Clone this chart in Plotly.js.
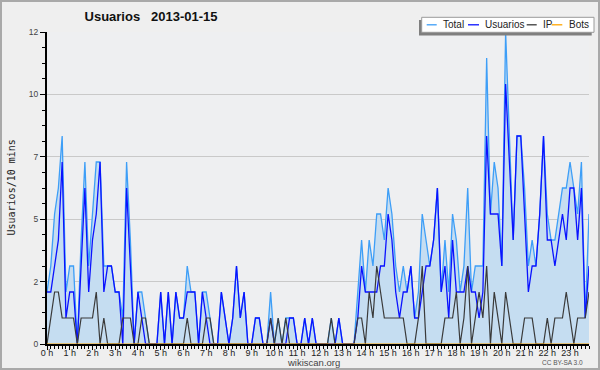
<!DOCTYPE html>
<html>
<head>
<meta charset="utf-8">
<script src="https://cdn.plot.ly/plotly-3.0.1.min.js"></script>
<style>
  html, body { margin: 0; padding: 0; background: #efefef; }
  #chart { width: 600px; height: 370px; }
</style>
</head>
<body>
<div id="chart"></div>
<script>
// ---- data (one value per 10 minutes, 144 slots) ----
const hourLabels = ["0 h","1 h","2 h","3 h","4 h","5 h","6 h","7 h","8 h","9 h","10 h","11 h",
  "12 h","13 h","14 h","15 h","16 h","17 h","18 h","19 h","20 h","21 h","22 h","23 h"];

const totalValues = [
  2,3,5,6,8,2,3,3,0,4, 7,3,5,7,7,3,3,3,2,2, 1,7,4,0,2,2,1,0,0,0,
  2,0,2,0,2,1,1,3,2,2, 0,2,2,1,0,0,2,1,0,1, 3,1,2,0,0,1,1,0,0,2,
  0,1,0,1,1,1,0,0,1,0, 1,0,0,0,0,1,0,1,0,0, 0,0,2,4,2,4,3,5,5,4,
  6,5,3,2,3,2,3,1,2,5, 4,3,4,6,2,4,2,5,4,2, 3,6,2,3,3,3,11,5,7,6,
  3,12,8,4,8,8,6,3,4,3, 5,8,5,4,4,5,6,6,7,6, 5,7,1,5];

const usuariosValues = [
  2,2,3,4,7,1,2,2,0,3, 6,2,4,5,7,2,3,3,2,2, 0,6,3,0,2,1,0,0,0,0,
  2,0,2,0,2,1,1,2,2,2, 0,2,1,0,0,0,2,1,0,1, 3,1,2,0,0,1,1,0,0,1,
  0,0,0,0,1,1,0,0,1,0, 1,0,0,0,0,0,0,1,0,0, 0,0,1,3,2,2,2,2,3,3,
  5,4,2,1,2,2,3,1,1,2, 3,3,4,6,2,3,1,4,2,2, 2,3,2,2,1,2,8,5,5,5,
  3,10,7,4,8,8,5,2,3,3, 5,8,4,4,3,4,5,4,6,6, 4,6,1,3];

const ipValues = [
  0,1,2,2,1,1,1,1,0,1, 1,1,1,2,0,1,0,0,0,0, 1,1,1,0,0,1,1,0,0,0,
  0,0,0,0,0,0,0,1,0,0, 0,0,1,1,0,0,0,0,0,0, 0,0,0,0,0,0,0,0,0,1,
  0,1,0,1,0,0,0,0,0,0, 0,0,0,0,0,1,0,0,0,0, 0,0,1,1,0,2,1,3,2,1,
  1,1,1,1,1,0,0,0,1,3, 0,0,0,0,0,1,1,1,2,0, 1,3,0,1,2,1,3,0,2,1,
  0,2,1,0,0,0,1,1,1,0, 0,0,1,0,1,1,1,2,1,0, 1,1,1,2];

const botsValues = new Array(144).fill(0);

const seriesNames = ["Total", "Usuarios", "IP", "Bots"];
const seriesColors = ["#3d9ef7", "#0a12ff", "#3a3a3a", "#ffa500"];

const yTickValues = [0, 2.4, 4.8, 7.2, 9.6, 12];
const yTickLabels = ["0", "2", "5", "7", "10", "12"];

// ---- geometry helpers (pixel -> paper) ----
const W = 600, H = 370, ML = 47, MR = 11, MT = 32, MB = 26;
const PW = W - ML - MR, PH = H - MT - MB;
const px = x => (x - ML) / PW;
const py = y => (H - MB - y) / PH;

const slots = totalValues.map((_, i) => i);
const hourTicks = hourLabels.map((_, h) => h * 6);

const traces = [
  { x: slots, y: totalValues, name: seriesNames[0], type: "scatter", mode: "lines",
    line: { color: seriesColors[0], width: 1.3 }, fill: "tozeroy", fillcolor: "rgb(197,221,241)" },
  { x: slots, y: usuariosValues, name: seriesNames[1], type: "scatter", mode: "lines",
    line: { color: seriesColors[1], width: 1.3 } },
  { x: slots, y: ipValues, name: seriesNames[2], type: "scatter", mode: "lines",
    line: { color: seriesColors[2], width: 1.2 } },
  { x: slots, y: botsValues, name: seriesNames[3], type: "scatter", mode: "lines",
    line: { color: seriesColors[3], width: 1.2 } }
];

// manual legend
const legendItems = [
  { lx0: 426.7, lx1: 436.7, tx: 442.3 },
  { lx0: 468.0, lx1: 479.0, tx: 484.0 },
  { lx0: 526.7, lx1: 536.7, tx: 541.7 },
  { lx0: 551.7, lx1: 562.3, tx: 568.0 }
];
const legY = 24.8;
const shapes = [
  { type: "rect", xref: "paper", yref: "paper", x0: px(1), x1: px(599), y0: py(369), y1: py(1),
    line: { color: "#a9a9a9", width: 2 }, fillcolor: "rgba(0,0,0,0)" },
  { type: "rect", xref: "paper", yref: "paper", x0: px(419), x1: px(591.7), y0: py(35.5), y1: py(20),
    line: { width: 0 }, fillcolor: "#7f7f7f" },
  { type: "rect", xref: "paper", yref: "paper", x0: px(421.7), x1: px(594), y0: py(32.3), y1: py(17.3),
    line: { color: "#9a9a9a", width: 1 }, fillcolor: "#ffffff" }
];
const annotations = [];
legendItems.forEach((it, k) => {
  shapes.push({ type: "line", xref: "paper", yref: "paper", x0: px(it.lx0), x1: px(it.lx1),
    y0: py(legY), y1: py(legY), line: { color: seriesColors[k], width: 1.3 } });
  annotations.push({ xref: "paper", yref: "paper", x: px(it.tx), y: py(legY), xanchor: "left", yanchor: "middle",
    text: seriesNames[k], showarrow: false, borderpad: 0,
    font: { family: "Liberation Sans", size: 10, color: "#222" } });
});
annotations.push(
  { xref: "paper", yref: "paper", x: px(10.5), y: py(188), xanchor: "center", yanchor: "middle",
    text: "Usuarios/10 mins", textangle: -90, showarrow: false,
    font: { family: "DejaVu Sans Mono", size: 10, color: "#222" } },
  { xref: "paper", yref: "paper", x: px(313), y: py(362), xanchor: "center", yanchor: "middle",
    text: "wikiscan.org", showarrow: false, borderpad: 0, font: { family: "Liberation Sans", size: 9.5, color: "#444" } },
  { xref: "paper", yref: "paper", x: px(562), y: py(362.5), xanchor: "center", yanchor: "middle",
    text: "CC BY-SA 3.0", showarrow: false, borderpad: 0, font: { family: "Liberation Sans", size: 6.5, color: "#555" } }
);

const layout = {
  width: W, height: H,
  margin: { l: ML, r: MR, t: MT, b: MB, pad: 0 },
  paper_bgcolor: "#efefef",
  plot_bgcolor: "#eeeff1",
  showlegend: false,
  title: { text: "Usuarios\u00a0\u00a0 2013-01-15", x: 151 / W, xref: "container", xanchor: "center",
    y: 1 - 16.5 / H, yref: "container", yanchor: "middle",
    font: { family: "Liberation Sans", size: 13, weight: "bold", color: "#111" } },
  xaxis: {
    range: [0, 143], showgrid: false, zeroline: false,
    showline: true, linecolor: "#000", linewidth: 2,
    tickmode: "array", tickvals: hourTicks, ticktext: hourLabels,
    ticks: "outside", ticklen: 4, tickwidth: 1, tickcolor: "#000",
    ticklabelstandoff: -5,
    tickfont: { family: "Liberation Sans", size: 9, color: "#222" },
    minor: { tickmode: "linear", tick0: 0, dtick: 1, ticks: "outside", ticklen: 3, tickcolor: "#000", tickwidth: 1 },
    fixedrange: true
  },
  yaxis: {
    range: [0, 12], zeroline: false,
    showgrid: true, gridcolor: "#c9c9c9", gridwidth: 1,
    showline: true, linecolor: "#000", linewidth: 2,
    tickmode: "array", tickvals: yTickValues, ticktext: yTickLabels,
    ticks: "outside", ticklen: 5, tickwidth: 1, tickcolor: "#000",
    tickfont: { family: "Liberation Sans", size: 8.5, color: "#444" },
    minor: { tickmode: "linear", tick0: 0, dtick: 0.6, ticks: "outside", ticklen: 3, tickcolor: "#000", tickwidth: 1 },
    fixedrange: true
  },
  shapes: shapes,
  annotations: annotations
};

Plotly.newPlot("chart", traces, layout, { staticPlot: true, displayModeBar: false });
</script>
</body>
</html>
